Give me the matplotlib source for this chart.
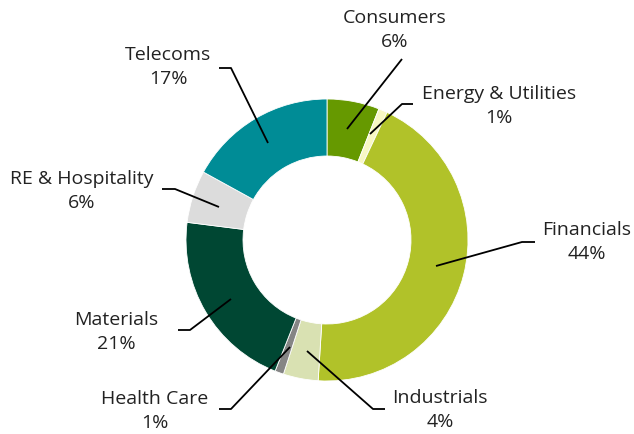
import matplotlib.pyplot as plt

# sector weights, clockwise from 12 o'clock
sectors = ['Consumers', 'Energy & Utilities', 'Financials', 'Industrials',
           'Health Care', 'Materials', 'RE & Hospitality', 'Telecoms']
weights = [6, 1, 44, 4, 1, 21, 6, 17]
colors = ['#669900', '#F8F8C4', '#B1C229', '#D9E1B2',
          '#858585', '#004733', '#DCDCDC', '#008C96']

# label layout in pixels (top-left origin): text centre, leader start, elbow, end
label_xy = [(395, 30), (499, 106), (587, 242), (440, 410),
            (155, 411), (116, 332), (82, 191), (168, 67)]
leaders = [
    [(347, 130), (402, 60), (402, 60)],
    [(370, 135), (402, 105), (413, 105)],
    [(436, 267), (522, 243), (535, 243)],
    [(307, 352), (373, 410), (385, 410)],
    [(290, 348), (231, 410), (219, 410)],
    [(231, 300), (190, 331), (178, 331)],
    [(219, 208), (175, 190), (162, 190)],
    [(268, 144), (231, 69), (219, 69)],
]

W, H = 634, 435
fig = plt.figure(figsize=(W / 100, H / 100), dpi=100)
ax = fig.add_axes([0, 0, 1, 1])
ax.axis('off')

ax.pie(weights, colors=colors, startangle=90, counterclock=False,
       center=(327, H - 241), radius=141,
       wedgeprops=dict(width=57, linewidth=0.6, edgecolor='white'))
ax.set_xlim(0, W)
ax.set_ylim(0, H)
ax.set_aspect('equal')

for name, w, (tx, ty), pts in zip(sectors, weights, label_xy, leaders):
    xs = [p[0] for p in pts]
    ys = [H - p[1] for p in pts]
    ax.plot(xs, ys, color='black', lw=1.3, solid_capstyle='butt')
    ax.text(tx, H - ty, f'{name}\n{w}%', ha='center', va='center',
            fontsize=14, family='Open Sans', color='#222222', linespacing=1.38)

fig.savefig('out.png', dpi=100)
